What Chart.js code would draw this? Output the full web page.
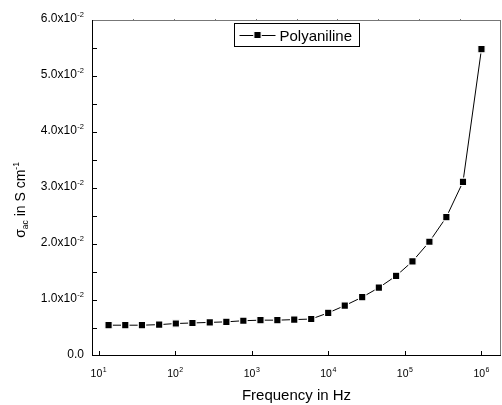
<!DOCTYPE html>
<html>
<head>
<meta charset="utf-8">
<script src="https://cdn.jsdelivr.net/npm/chart.js@4.4.0/dist/chart.umd.min.js"></script>
<style>
  html, body { margin: 0; padding: 0; background: #fff; }
  canvas { display: block; }
</style>
</head>
<body>
<canvas id="chart" width="502" height="405"></canvas>
<script>
// frequency in Hz and ac conductivity in S/cm
const frequency = [13.5, 22.3, 36.8, 61.8, 102, 168, 283, 466, 777, 1300, 2160, 3590, 5980, 9970,
                   16400, 27700, 45700, 76800, 125600, 209000, 348000, 574000, 1000000];
const sigmaAc = [0.0055, 0.0055, 0.0055, 0.0056, 0.0058, 0.0059, 0.0060, 0.0061, 0.0063, 0.0064, 0.0064, 0.0065,
                 0.0066, 0.0077, 0.0090, 0.0105, 0.0122, 0.0143, 0.0169, 0.0204, 0.0248, 0.0311, 0.0548];

const xTickValues = [1e1, 1e2, 1e3, 1e4, 1e5, 1e6];
const xTickExponents = ['1', '2', '3', '4', '5', '6'];
const yTickValues = [0, 0.01, 0.02, 0.03, 0.04, 0.05, 0.06];
const yTickMantissas = ['0.0', '1.0', '2.0', '3.0', '4.0', '5.0', '6.0'];
const yTickExponent = '-2';
const yMinorStep = 0.005;

const seriesLabel = 'Polyaniline';

const FACE = '"Liberation Sans", Arial, Helvetica, sans-serif';
const font = size => size + 'px ' + FACE;

// Origin-like frame, inward ticks, superscript labels, titles and legend box
const originStyle = {
    id: 'originStyle',
    afterDraw(chart) {
        const ctx = chart.ctx;
        const a = chart.chartArea;
        const xs = chart.scales.x;
        const ys = chart.scales.y;
        ctx.save();

        // top and right edges are grey
        ctx.lineWidth = 1;
        ctx.strokeStyle = '#777';
        ctx.beginPath();
        ctx.moveTo(a.left, a.top + 0.5);
        ctx.lineTo(a.right, a.top + 0.5);
        ctx.moveTo(a.right - 0.5, a.top);
        ctx.lineTo(a.right - 0.5, a.bottom);
        // tiny ticks on the top edge
        for (let k = 1; k < 10; k++) {
            const px = Math.round(a.left + (a.right - a.left) * k / 10) + 0.5;
            ctx.moveTo(px, a.top + 1);
            ctx.lineTo(px, a.top - 1);
        }
        ctx.stroke();

        // left and bottom axes, black
        ctx.strokeStyle = '#000';
        ctx.beginPath();
        ctx.moveTo(a.left + 0.5, a.top);
        ctx.lineTo(a.left + 0.5, a.bottom);
        ctx.moveTo(a.left, a.bottom - 0.5);
        ctx.lineTo(a.right, a.bottom - 0.5);
        xTickValues.forEach(v => {
            const px = Math.round(xs.getPixelForValue(v)) + 0.5;
            ctx.moveTo(px, a.bottom);
            ctx.lineTo(px, a.bottom - 5);
        });
        const nMinor = Math.round(ys.max / yMinorStep);
        for (let i = 1; i < nMinor; i++) {
            const py = Math.round(ys.getPixelForValue(i * yMinorStep)) + 0.5;
            ctx.moveTo(a.left, py);
            ctx.lineTo(a.left + 5, py);
        }
        ctx.stroke();

        ctx.fillStyle = '#000';
        ctx.textBaseline = 'alphabetic';

        // y tick labels: m.0x10^-2
        yTickValues.forEach((v, i) => {
            const py = ys.getPixelForValue(v);
            const right = a.left - 8;
            const base = py + 1.8;
            if (v === 0) {
                ctx.font = font(12);
                ctx.textAlign = 'right';
                ctx.fillText(yTickMantissas[i], right, base);
                return;
            }
            ctx.font = font(7.5);
            const supW = ctx.measureText(yTickExponent).width;
            ctx.textAlign = 'left';
            ctx.fillText(yTickExponent, right - supW, base - 5);
            ctx.font = font(12);
            ctx.textAlign = 'right';
            ctx.fillText(yTickMantissas[i] + 'x10', right - supW - 0.5, base);
        });

        // x tick labels: 10^n
        xTickValues.forEach((v, i) => {
            const px = xs.getPixelForValue(v);
            ctx.font = font(10.5);
            const mainW = ctx.measureText('10').width;
            ctx.font = font(7);
            const supW = ctx.measureText(xTickExponents[i]).width;
            const x0 = px - (mainW + supW + 0.5) / 2;
            ctx.textAlign = 'left';
            ctx.font = font(10.5);
            ctx.fillText('10', x0, a.bottom + 21);
            ctx.font = font(7);
            ctx.fillText(xTickExponents[i], x0 + mainW + 0.5, a.bottom + 15.5);
        });

        // x title
        ctx.font = font(15);
        ctx.textAlign = 'center';
        ctx.fillText('Frequency in Hz', (a.left + a.right) / 2, 399.5);

        // y title: sigma_ac in S cm^-1, rotated
        ctx.save();
        ctx.translate(25, 200);
        ctx.rotate(-Math.PI / 2);
        ctx.textAlign = 'left';
        const parts = [
            { t: '\u03c3', s: 14, dy: 0 },
            { t: 'ac', s: 8.5, dy: 3 },
            { t: ' in S cm', s: 14, dy: 0 },
            { t: '-1', s: 8.5, dy: -6 }
        ];
        let total = 0;
        parts.forEach(p => { ctx.font = font(p.s); p.w = ctx.measureText(p.t).width; total += p.w; });
        let cx = -total / 2;
        parts.forEach(p => {
            ctx.font = font(p.s);
            ctx.fillText(p.t, cx, p.dy);
            cx += p.w;
        });
        ctx.restore();

        // legend box
        const ds = chart.data.datasets[0];
        const lx = 234.5, ly = 23.5, lw = 125, lh = 23;
        ctx.fillStyle = '#fff';
        ctx.fillRect(lx, ly, lw, lh);
        ctx.strokeStyle = '#000';
        ctx.strokeRect(lx, ly, lw, lh);
        const my = ly + lh / 2;
        ctx.beginPath();
        ctx.moveTo(lx + 5, Math.round(my) + 0.5);
        ctx.lineTo(lx + 41, Math.round(my) + 0.5);
        ctx.stroke();
        const side = ds.pointRadius * Math.SQRT1_2 * 2;
        const mx = lx + 23;
        ctx.fillStyle = ds.pointBackgroundColor;
        ctx.strokeStyle = ds.pointBorderColor;
        ctx.lineWidth = ds.pointBorderWidth;
        ctx.beginPath();
        ctx.rect(mx - side / 2, my - side / 2, side, side);
        ctx.fill();
        ctx.stroke();
        ctx.fillStyle = '#000';
        ctx.font = font(15);
        ctx.textAlign = 'left';
        ctx.fillText(ds.label, lx + 45, my + 5.5);

        ctx.restore();
    }
};

new Chart(document.getElementById('chart'), {
    type: 'line',
    data: {
        labels: frequency,
        datasets: [{
            label: seriesLabel,
            data: frequency.map((f, i) => ({ x: f, y: sigmaAc[i] })),
            borderColor: '#000',
            borderWidth: 1,
            tension: 0,
            pointStyle: 'rect',
            pointRadius: 5.2,
            pointBackgroundColor: '#000',
            pointBorderColor: '#fff',
            pointBorderWidth: 1.2,
            clip: false
        }]
    },
    plugins: [originStyle],
    options: {
        responsive: false,
        devicePixelRatio: 1,
        animation: false,
        events: [],
        layout: { autoPadding: false, padding: { top: 20, right: 1, bottom: 0, left: 0 } },
        plugins: {
            legend: { display: false },
            title: { display: false },
            tooltip: { enabled: false }
        },
        scales: {
            x: {
                type: 'logarithmic',
                min: 8.2,
                max: 1.8e6,
                ticks: { display: false },
                grid: { display: false },
                border: { display: false },
                afterFit: s => { s.height = 49; }
            },
            y: {
                type: 'linear',
                min: 0,
                max: 0.06,
                ticks: { display: false, stepSize: yMinorStep },
                grid: { display: false },
                border: { display: false },
                afterFit: s => { s.width = 92; }
            }
        }
    }
});
</script>
</body>
</html>
